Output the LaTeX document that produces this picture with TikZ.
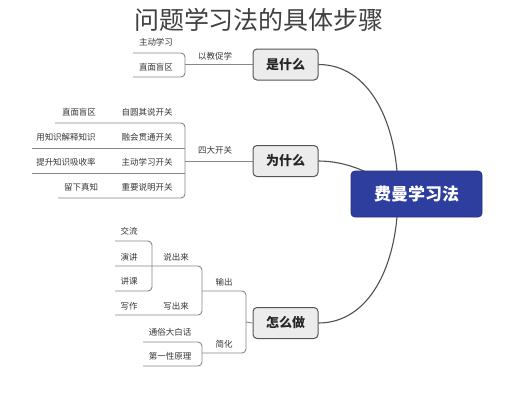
\documentclass[tikz,border=0pt]{standalone}
\usepackage{fontspec}
\setmainfont{Noto Sans CJK SC}
\usetikzlibrary{backgrounds}
\definecolor{rootblue}{RGB}{46,62,158}
\definecolor{boxfill}{RGB}{236,236,236}
\definecolor{boxline}{RGB}{85,85,85}
\definecolor{txt}{RGB}{55,55,55}
\definecolor{lnk}{RGB}{135,135,135}
\definecolor{crv}{RGB}{80,80,80}
\begin{document}
\begin{tikzpicture}[x=1pt,y=-1pt,
  branchbox/.style={draw=boxline, fill=boxfill, rounded corners=4pt, line width=1pt,
    minimum width=65pt, minimum height=31pt, inner sep=0pt,
    font=\bfseries\fontsize{13}{13}\selectfont, text=black!85},
  rootbox/.style={draw=rootblue!80!black, fill=rootblue, rounded corners=4pt, line width=0.8pt,
    minimum width=131pt, minimum height=46pt, inner sep=0pt,
    font=\bfseries\fontsize{17}{17}\selectfont, text=white},
  lbl/.style={font=\fontsize{8.5}{8.5}\selectfont, text=txt, inner sep=1pt},
  curvelink/.style={draw=crv, line width=1.1pt},
  brk/.style={draw=lnk, line width=0.9pt, rounded corners=4pt},
]
\useasboundingbox (0,0) rectangle (515,400);

% title
\node[font=\fontsize{25}{25}\selectfont, text=black!75] (title) at (259,20) {问题学习法的具体步骤};

% main nodes
\node[rootbox] (root) at (416.5,194) {费曼学习法};
\node[branchbox] (what) at (285.5,64.5) {是什么};
\node[branchbox] (why) at (285.5,161) {为什么};
\node[branchbox] (how) at (285.5,323) {怎么做};
\coordinate (rin) at (398,194);

\begin{scope}[on background layer]
  \fill[white] (0,0) rectangle (515,400);
  \draw[curvelink] (what.east) .. controls (368,64.5) and (398,120) .. (rin);
  \draw[curvelink] (why.east) .. controls (345,161) and (375,172) .. (rin);
  \draw[curvelink] (how.east) .. controls (368,323) and (398,268) .. (rin);
\end{scope}

% ---------- 是什么 ----------
\coordinate (wJ) at (185,64.5);
\coordinate (wA) at (133,53);
\coordinate (wB) at (133,77);
\coordinate (wAc) at (185,53);
\coordinate (wBc) at (185,77);
\draw[brk] (what.west) -- (wJ);
\draw[brk] (wA) -- (wAc) -- (wBc) -- (wB);
\node[lbl] (wL) at (215,56) {以教促学};
\node[lbl] (w1) at (156,42.5) {主动学习};
\node[lbl] (w2) at (156,67) {直面盲区};

% ---------- 为什么 ----------
\coordinate (yJ) at (185,161);
\coordinate (y1L) at (55,123);  \coordinate (y1R) at (185,123);
\coordinate (y2L) at (32,148);  \coordinate (y2R) at (185,148);
\coordinate (y3L) at (32,173);  \coordinate (y3R) at (185,173);
\coordinate (y4L) at (58,198);  \coordinate (y4R) at (185,198);
\draw[brk] (why.west) -- (yJ);
\draw[brk] (y1L) -- (y1R) -- (y4R) -- (y4L);
\draw[brk] (y2L) -- (y2R);
\draw[brk] (y3L) -- (y3R);
\node[lbl] (yL) at (215,150) {四大开关};
\node[lbl] (y1) at (147,112.5) {自圆其说开关};
\node[lbl] (y2) at (147,137.5) {融会贯通开关};
\node[lbl] (y3) at (147,162.5) {主动学习开关};
\node[lbl] (y4) at (147,187.5) {重要说明开关};
\node[lbl] (y1c) at (79,112.5) {直面盲区};
\node[lbl] (y2c) at (66,137.5) {用知识解释知识};
\node[lbl] (y3c) at (66,162.5) {提升知识吸收率};
\node[lbl] (y4c) at (81,187.5) {留下真知};

% ---------- 怎么做 ----------
\coordinate (hJ) at (246,322);
\coordinate (hA) at (202,291); \coordinate (hAc) at (246,291);
\coordinate (hB) at (202,353); \coordinate (hBc) at (246,353);
\draw[brk] (how.west) -- (hJ);
\draw[brk] (hA) -- (hAc) -- (hBc) -- (hB);
\node[lbl] (out) at (224,282) {输出};
\node[lbl] (simp) at (224,344.5) {简化};

% 输出 bracket
\coordinate (oA) at (115,266); \coordinate (oAc) at (202,266);
\coordinate (oB) at (115,315); \coordinate (oBc) at (202,315);
\draw[brk] (oA) -- (oAc) -- (oBc) -- (oB);
\node[lbl] (say) at (176,257) {说出来};
\node[lbl] (write) at (176,306.5) {写出来};
\node[lbl] (wz) at (129,306.5) {写作};

% 说出来 bracket
\coordinate (sA) at (115,241); \coordinate (sAc) at (152,241);
\coordinate (sB) at (115,291); \coordinate (sBc) at (152,291);
\draw[brk] (sA) -- (sAc) -- (sBc) -- (sB);
\node[lbl] (jl) at (129,231.5) {交流};
\node[lbl] (yj) at (129,257) {演讲};
\node[lbl] (jk) at (129,281.5) {讲课};

% 简化 bracket
\coordinate (cA) at (143,342); \coordinate (cAc) at (202,342);
\coordinate (cB) at (143,366); \coordinate (cBc) at (202,366);
\draw[brk] (cA) -- (cAc) -- (cBc) -- (cB);
\node[lbl] (tsd) at (170,332) {通俗大白话};
\node[lbl] (dyx) at (170,356) {第一性原理};
\end{tikzpicture}
\end{document}
